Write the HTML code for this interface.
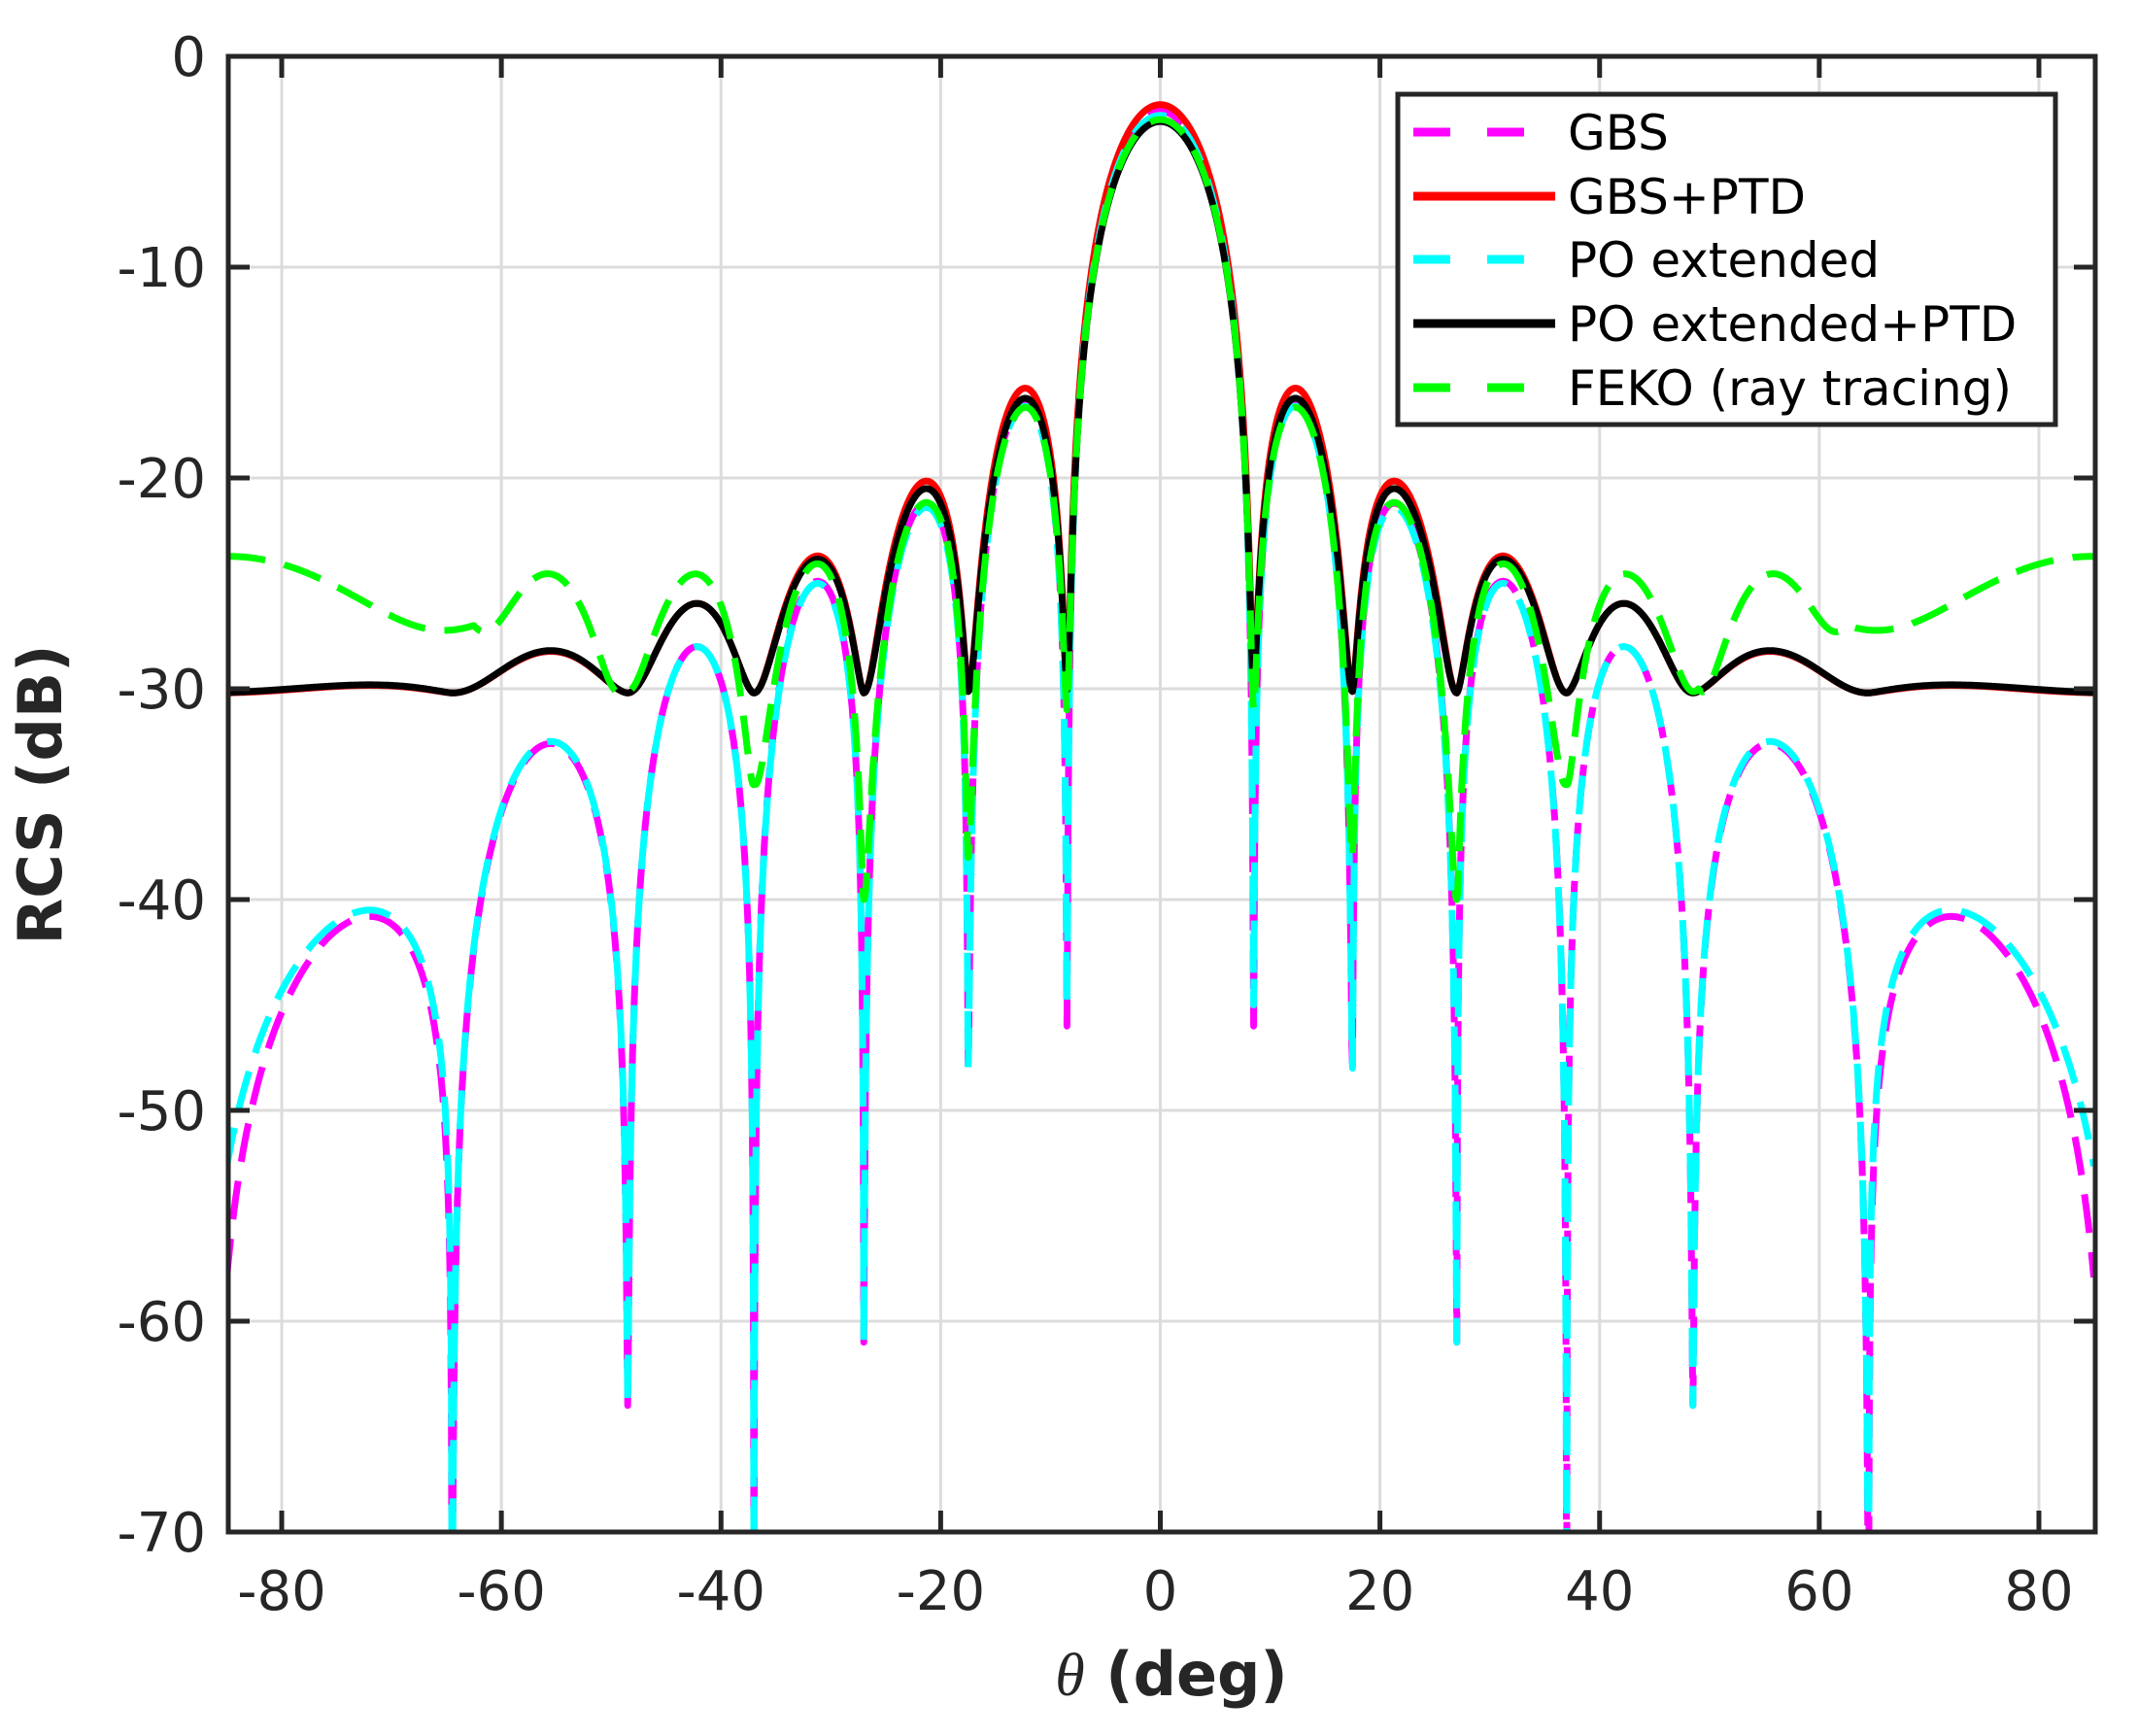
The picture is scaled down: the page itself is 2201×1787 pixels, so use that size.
<!DOCTYPE html>
<html><head><meta charset="utf-8">
<style>
html,body{margin:0;padding:0;background:#fff;}
svg{display:block;}
text{font-family:"DejaVu Sans","Liberation Sans",sans-serif;fill:#262626;}
</style></head>
<body>
<svg id="s" width="2201" height="1787" viewBox="0 0 2201 1787" xmlns="http://www.w3.org/2000/svg">
<defs><clipPath id="c"><rect x="235" y="58" width="1922" height="1520"/></clipPath></defs>
<rect width="2201" height="1787" fill="#fff"/>
<g id="grid" stroke="#dcdcdc" stroke-width="3"></g>
<g id="curves" clip-path="url(#c)" fill="none" stroke-linejoin="round"></g>
<g id="axes"></g>
<text x="63" y="818" font-size="62" font-weight="bold" text-anchor="middle" transform="rotate(-90 63 818)">RCS (dB)</text>
<text x="1206" y="1745" font-size="62" font-weight="bold" text-anchor="middle"><tspan font-family="Liberation Serif" font-style="italic" font-weight="normal">θ</tspan> (deg)</text>
<g>
<rect x="1439" y="97" width="677" height="340" fill="#fff" stroke="#262626" stroke-width="5"/>
<line x1="1455" y1="136" x2="1601" y2="136" stroke="#ff00ff" stroke-width="9" stroke-dasharray="38,38"/>
<line x1="1455" y1="202" x2="1601" y2="202" stroke="#ff0000" stroke-width="9"/>
<line x1="1455" y1="267" x2="1601" y2="267" stroke="#00ffff" stroke-width="9" stroke-dasharray="38,38"/>
<line x1="1455" y1="333" x2="1601" y2="333" stroke="#000" stroke-width="9"/>
<line x1="1455" y1="399" x2="1601" y2="399" stroke="#00ff00" stroke-width="9" stroke-dasharray="38,38"/>
<g font-size="50">
<text x="1614" y="154" style="fill:#000">GBS</text>
<text x="1614" y="220" style="fill:#000">GBS+PTD</text>
<text x="1614" y="285" style="fill:#000">PO extended</text>
<text x="1614" y="351" style="fill:#000">PO extended+PTD</text>
<text x="1614" y="417" style="fill:#000">FEKO (ray tracing)</text>
</g>
</g>
</svg>
<script>
const NS="http://www.w3.org/2000/svg";
const X=t=>1194.5+t*11.306, Y=d=>58-d*21.7;
function el(p,n,a){const e=document.createElementNS(NS,n);for(const k in a)e.setAttribute(k,a[k]);p.appendChild(e);return e;}
const grid=document.getElementById('grid'),axes=document.getElementById('axes');
for(let t=-80;t<=80;t+=20){el(grid,'line',{x1:X(t),x2:X(t),y1:58,y2:1577});}
for(let d=-10;d>=-60;d-=10){el(grid,'line',{x1:235,x2:2157,y1:Y(d),y2:Y(d)});}
el(axes,'rect',{x:235,y:58,width:1922,height:1519,fill:'none',stroke:'#262626','stroke-width':5});
for(let t=-80;t<=80;t+=20){
 el(axes,'line',{x1:X(t),x2:X(t),y1:58,y2:80,stroke:'#262626','stroke-width':5});
 el(axes,'line',{x1:X(t),x2:X(t),y1:1555,y2:1577,stroke:'#262626','stroke-width':5});
 const tx=el(axes,'text',{x:X(t),y:1657,'font-size':56,'text-anchor':'middle'});tx.textContent=t;
}
for(let d=0;d>=-70;d-=10){
 el(axes,'line',{x1:235,x2:257,y1:Y(d),y2:Y(d),stroke:'#262626','stroke-width':5});
 el(axes,'line',{x1:2135,x2:2157,y1:Y(d),y2:Y(d),stroke:'#262626','stroke-width':5});
 const tx=el(axes,'text',{x:212,y:Y(d)+20,'font-size':56,'text-anchor':'end'});tx.textContent=d;
}
// nulls [pos, floordB]; peaks [dB, pos]
function model(nulls,peaks,extraFloor){
 return function(th){
  const a=Math.abs(th);
  let i=0;while(i<nulls.length-1&&a>nulls[i+1][0])i++;
  let n1,n2,pk,pp,f1,f2,u;
  if(a<nulls[0][0]){n1=-nulls[0][0];n2=nulls[0][0];pk=peaks[0][0];f1=f2=nulls[0][1];u=(a-n1)/(n2-n1);}
  else{n1=nulls[i][0];n2=nulls[i+1][0];pk=peaks[i+1][0];pp=peaks[i+1][1];f1=nulls[i][1];f2=nulls[i+1][1];
   u=(a-n1)/(n2-n1);const up=(pp-n1)/(n2-n1);const k=Math.log(0.5)/Math.log(up);u=Math.pow(u,k);}
  const s=Math.sin(Math.PI*u);
  const A2=Math.pow(10,pk/10)*s*s;
  const w=Math.min(1,Math.max(0,u));
  const f=Math.pow(10,f1/10)*(1-w)*(1-w)+Math.pow(10,f2/10)*w*w;
  let p=A2+f;
  if(extraFloor!==undefined)p+=Math.pow(10,extraFloor/10);
  return 10*Math.log10(p);
 };
}
const cyN=[[8.5,-45],[17.5,-48],[27,-61],[37,-85],[48.5,-64],[64.5,-85],[88,-90]];
const pos=[0,12.3,21.3,31.2,42.2,55.5,72];
const mk=(arr)=>arr.map((v,i)=>[v,pos[i]]);
const cyP=mk([-2.8,-16.6,-21.4,-25,-28,-32.5,-40.5]);
const mgN=[[8.5,-46],[17.5,-48],[27,-61],[37,-85],[48.5,-64],[64.5,-85],[86.5,-90]];
const mgP=mk([-2.6,-16.4,-21.2,-24.9,-28,-32.6,-40.8]);
const gbs=model(mgN,mgP), po=model(cyN,cyP);
const red=model(mgN,mk([-2.3,-15.9,-20.6,-24.8,-28,-32.6,-40.8]),-30.2);
const blk=model(cyN,mk([-3.1,-16.4,-21.0,-25,-28,-32.5,-40.5]),-30.2);
const grN=[[8.5,-31],[17.5,-38],[27,-40],[37,-34.5],[49,-30],[62.5,-27],[108,-90]];
const grP=[[-3,0],[-16.7,12.3],[-21.2,21.3],[-24.2,31.2],[-25,42.2],[-25.6,55.5],[-24.3,86]];
const feko=model(grN,grP);
const cur=document.getElementById('curves');
function draw(fn,col,dash){
 let d='';for(let t=-85;t<=85.001;t+=0.05){const v=Math.max(-75,fn(t));d+=(d?'L':'M')+X(t).toFixed(1)+' '+Y(v).toFixed(1);}
 const a={d:d,stroke:col,'stroke-width':7};if(dash)a['stroke-dasharray']=dash;el(cur,'path',a);
}
draw(gbs,'#ff00ff','40,20');
draw(red,'#ff0000');
draw(po,'#00ffff','40,20');
draw(blk,'#000000');
draw(feko,'#00ff00','40,20');
</script>
</body></html>
